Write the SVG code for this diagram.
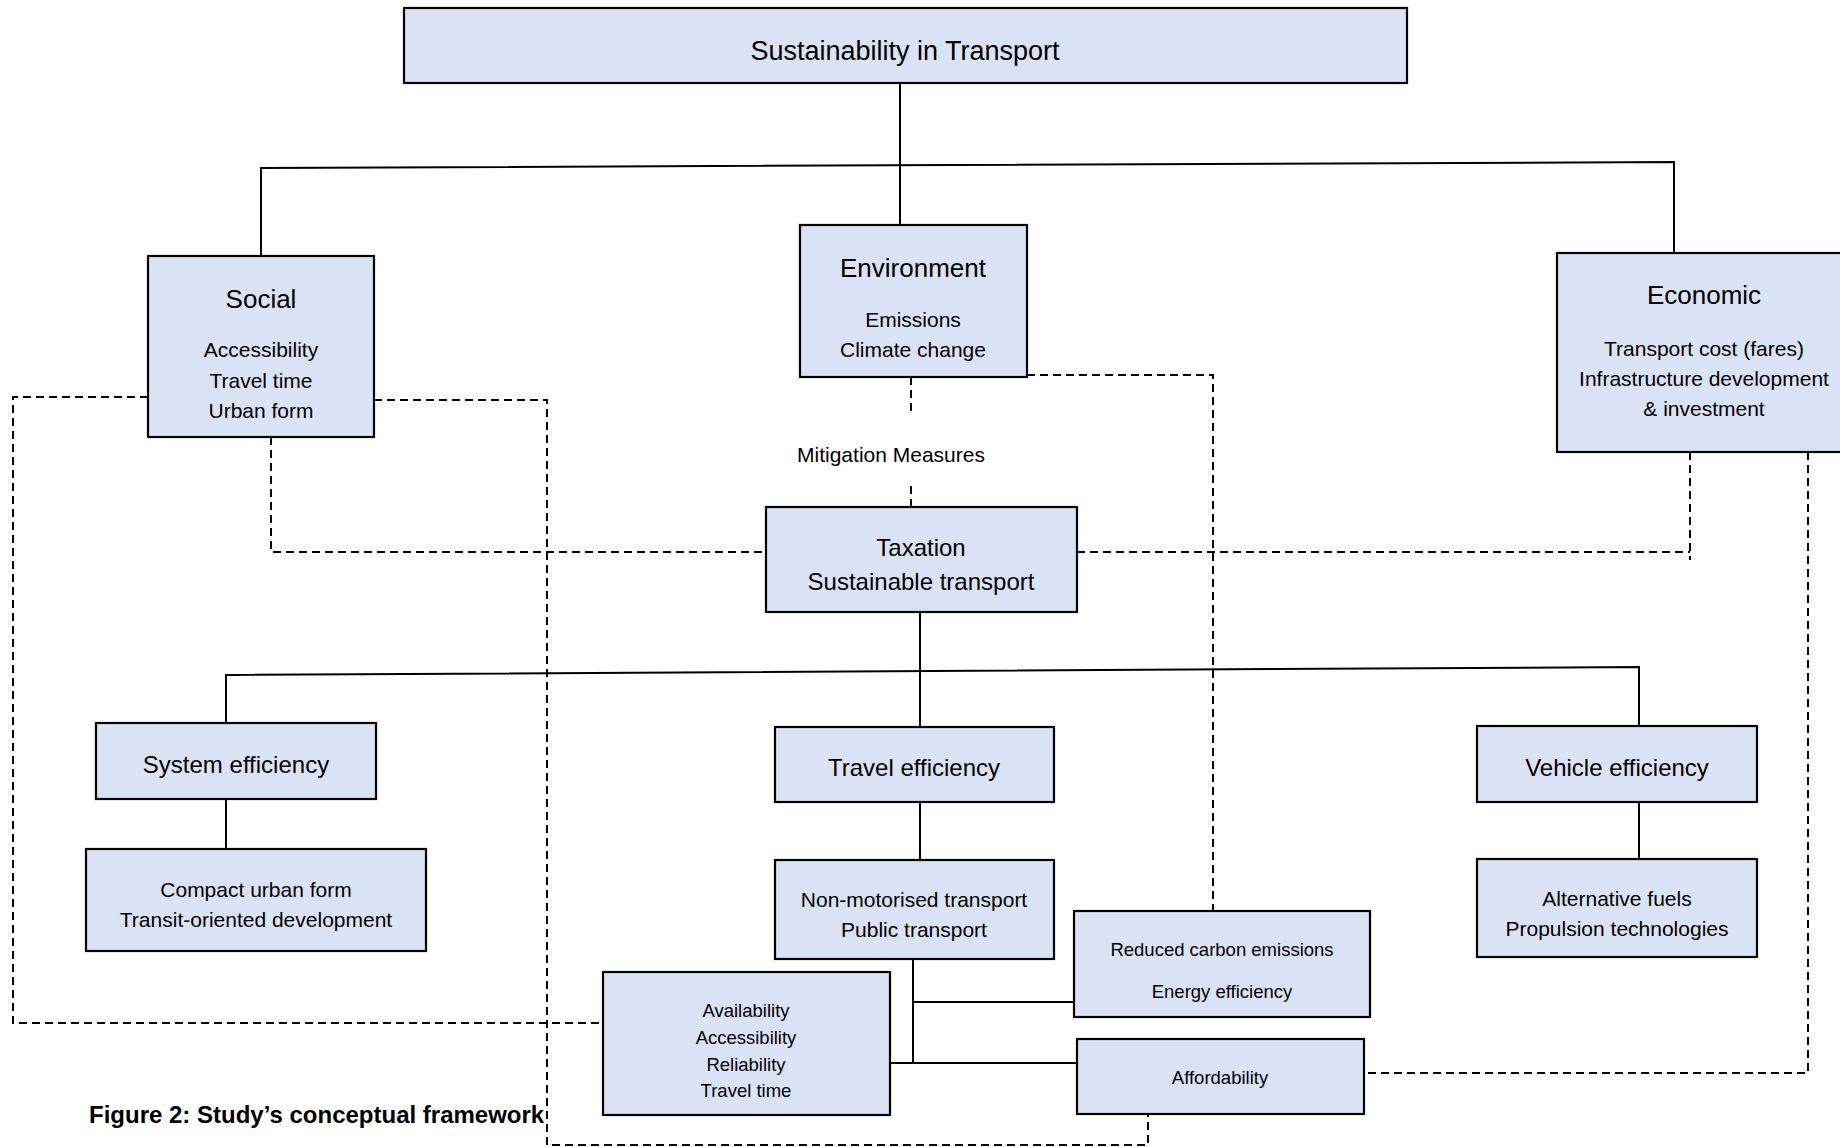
<svg xmlns="http://www.w3.org/2000/svg" width="1840" height="1147" viewBox="0 0 1840 1147">
<style>
.box{fill:#dae3f3;stroke:#000;stroke-width:2.2}
.t{font-family:"Liberation Sans",Arial,sans-serif;fill:#000;text-anchor:middle}
.solid{fill:none;stroke:#000;stroke-width:2}
.dash{fill:none;stroke:#000;stroke-width:2;stroke-dasharray:8 5}
</style>
<rect width="1840" height="1147" fill="#fff"/>
<g id="connectors">
<path class="solid" d="M900,83 V225"/>
<path class="solid" d="M261,256 V168 L1674,162 V253"/>
<path class="solid" d="M920,612 V727"/>
<path class="solid" d="M226,723 V675 L1639,667 V726"/>
<path class="solid" d="M226,799 V849"/>
<path class="solid" d="M920,802 V860"/>
<path class="solid" d="M1639,802 V859"/>
<path class="solid" d="M913,959 V1063"/>
<path class="solid" d="M913,1002 H1074"/>
<path class="solid" d="M890,1063 H1077"/>
<path class="dash" d="M1027,375 H1213 V911"/>
<path class="dash" d="M911,377 V415"/>
<path class="dash" d="M911,486 V507"/>
<path class="dash" d="M271,437 V552 H766"/>
<path class="dash" d="M1077,552 H1690"/>
<path class="dash" d="M1690,452 V560"/>
<path class="dash" d="M1808,452 V1073 H1360"/>
<path class="dash" d="M148,397 H13 V1023 H603"/>
<path class="dash" d="M374,400 H547 V1145 H1148 V1114"/>
</g>
<g id="sustainability">
<rect class="box" x="404" y="8" width="1003" height="75"/>
<text class="t" x="905" y="60" font-size="27">Sustainability in Transport</text>
</g>
<g id="social">
<rect class="box" x="148" y="256" width="226" height="181"/>
<text class="t" x="261" y="308" font-size="26">Social</text>
<text class="t" x="261" y="357" font-size="21">Accessibility</text>
<text class="t" x="261" y="388" font-size="21">Travel time</text>
<text class="t" x="261" y="418" font-size="21">Urban form</text>
</g>
<g id="environment">
<rect class="box" x="800" y="225" width="227" height="152"/>
<text class="t" x="913" y="277" font-size="26">Environment</text>
<text class="t" x="913" y="327" font-size="21">Emissions</text>
<text class="t" x="913" y="357" font-size="21">Climate change</text>
</g>
<g id="economic">
<rect class="box" x="1557" y="253" width="295" height="199"/>
<text class="t" x="1704" y="304" font-size="26">Economic</text>
<text class="t" x="1704" y="356" font-size="21">Transport cost (fares)</text>
<text class="t" x="1704" y="386" font-size="21">Infrastructure development</text>
<text class="t" x="1704" y="416" font-size="21">&amp; investment</text>
</g>
<g id="mitigation">
<text class="t" x="891" y="462" font-size="21">Mitigation Measures</text>
</g>
<g id="taxation">
<rect class="box" x="766" y="507" width="311" height="105"/>
<text class="t" x="921" y="556" font-size="24">Taxation</text>
<text class="t" x="921" y="590" font-size="24">Sustainable transport</text>
</g>
<g id="system-efficiency">
<rect class="box" x="96" y="723" width="280" height="76"/>
<text class="t" x="236" y="773" font-size="24">System efficiency</text>
</g>
<g id="travel-efficiency">
<rect class="box" x="775" y="727" width="279" height="75"/>
<text class="t" x="914" y="776" font-size="24">Travel efficiency</text>
</g>
<g id="vehicle-efficiency">
<rect class="box" x="1477" y="726" width="280" height="76"/>
<text class="t" x="1617" y="776" font-size="24">Vehicle efficiency</text>
</g>
<g id="compact">
<rect class="box" x="86" y="849" width="340" height="102"/>
<text class="t" x="256" y="897" font-size="21">Compact urban form</text>
<text class="t" x="256" y="927" font-size="21">Transit-oriented development</text>
</g>
<g id="non-motorised">
<rect class="box" x="775" y="860" width="279" height="99"/>
<text class="t" x="914" y="907" font-size="21">Non-motorised transport</text>
<text class="t" x="914" y="937" font-size="21">Public transport</text>
</g>
<g id="alternative-fuels">
<rect class="box" x="1477" y="859" width="280" height="98"/>
<text class="t" x="1617" y="906" font-size="21">Alternative fuels</text>
<text class="t" x="1617" y="936" font-size="21">Propulsion technologies</text>
</g>
<g id="reduced-carbon">
<rect class="box" x="1074" y="911" width="296" height="106"/>
<text class="t" x="1222" y="956" font-size="18.5">Reduced carbon emissions</text>
<text class="t" x="1222" y="998" font-size="18.5">Energy efficiency</text>
</g>
<g id="availability">
<rect class="box" x="603" y="972" width="287" height="143"/>
<text class="t" x="746" y="1017" font-size="18.5">Availability</text>
<text class="t" x="746" y="1044" font-size="18.5">Accessibility</text>
<text class="t" x="746" y="1071" font-size="18.5">Reliability</text>
<text class="t" x="746" y="1097" font-size="18.5">Travel time</text>
</g>
<g id="affordability">
<rect class="box" x="1077" y="1039" width="287" height="75"/>
<text class="t" x="1220" y="1084" font-size="18.5">Affordability</text>
</g>
<g id="caption">
<text x="89" y="1123" font-family="Liberation Sans, Arial, sans-serif" font-weight="bold" font-size="24">Figure 2: Study’s conceptual framework</text>
</g>
</svg>
